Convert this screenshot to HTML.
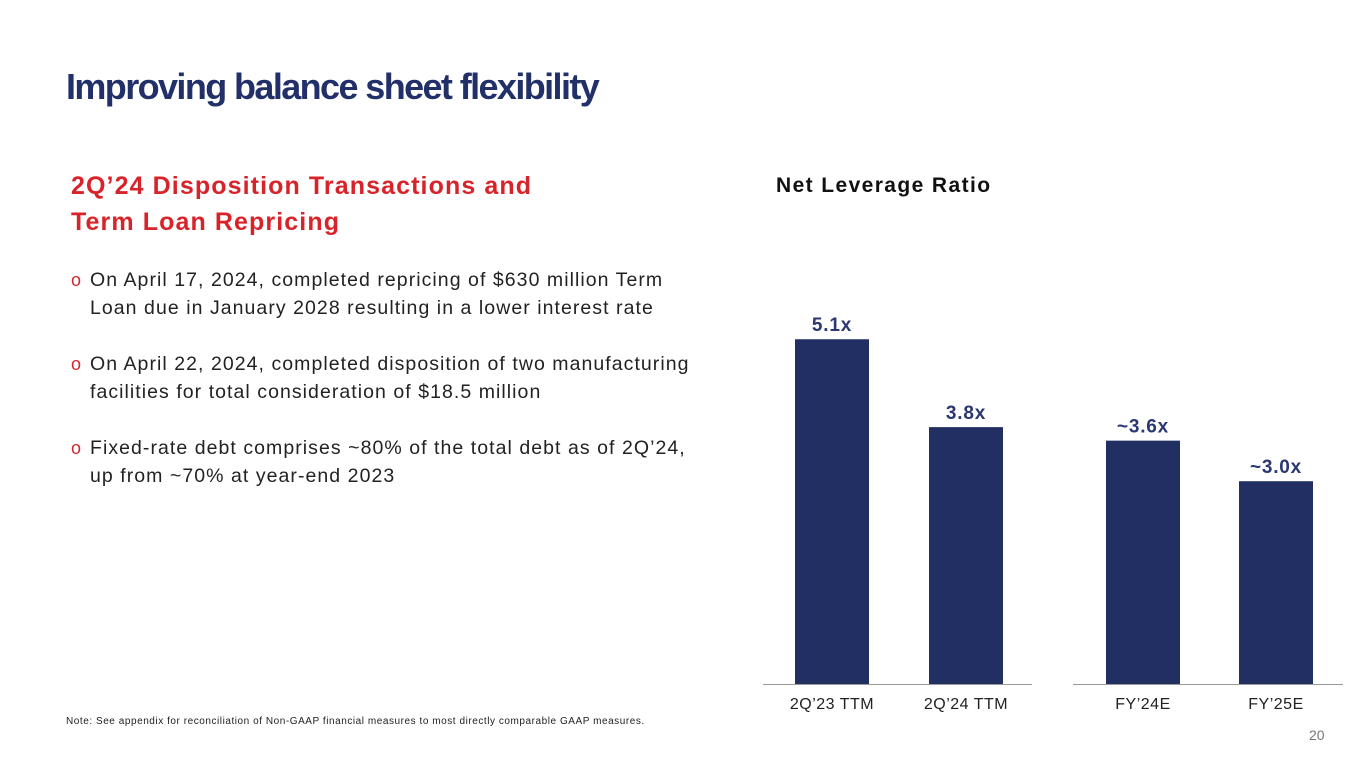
<!DOCTYPE html>
<html><head><meta charset="utf-8">
<style>
body{margin:0;width:1365px;height:768px;background:#fff;font-family:"Liberation Sans",sans-serif;position:relative;overflow:hidden}
.a{position:absolute;white-space:nowrap}
#title{left:66px;top:66px;font-size:36px;font-weight:bold;color:#22306a;letter-spacing:-1.6px}
.h2{left:71px;font-size:25px;font-weight:bold;color:#d8232a;letter-spacing:1.1px}
.b{left:90px;font-size:19.5px;color:#222;line-height:28px;letter-spacing:1.05px}
.o{position:absolute;left:-19px;top:0;color:#d8232a;font-size:18px}
#note{left:66px;top:716px;font-size:10px;color:#222;letter-spacing:0.55px}
#pg{left:1309px;top:727px;font-size:14px;color:#777}
#ctitle{left:776px;top:174px;font-size:21px;font-weight:bold;color:#111;letter-spacing:1.4px}
</style></head><body>
<div class="a" id="title">Improving balance sheet flexibility</div>
<div class="a h2" style="top:172px">2Q’24 Disposition Transactions and</div>
<div class="a h2" style="top:208px">Term Loan Repricing</div>
<div class="a b" style="top:266px"><span class="o">o</span>On April 17, 2024, completed repricing of $630 million Term<br>Loan due in January 2028 resulting in a lower interest rate</div>
<div class="a b" style="top:350px"><span class="o">o</span>On April 22, 2024, completed disposition of two manufacturing<br>facilities for total consideration of $18.5 million</div>
<div class="a b" style="top:434px"><span class="o">o</span>Fixed-rate debt comprises ~80% of the total debt as of 2Q’24,<br>up from ~70% at year-end 2023</div>
<div class="a" id="note">Note: See appendix for reconciliation of Non-GAAP financial measures to most directly comparable GAAP measures.</div>
<div class="a" id="pg">20</div>
<div class="a" id="ctitle">Net Leverage Ratio</div>
<svg class="a" style="left:0;top:0" width="1365" height="768">
<g id="g"></g>
</svg>
<script>
const categories=["2Q’23 TTM","2Q’24 TTM","FY’24E","FY’25E"];
const values=[5.1,3.8,3.6,3.0];
const valueLabels=["5.1x","3.8x","~3.6x","~3.0x"];
const barX=[795,929,1106,1239];
const baseY=684, pxPerUnit=67.6, bw=74;
const y=v=>baseY-v*pxPerUnit;
const g=document.getElementById('g');
const NS='http://www.w3.org/2000/svg';
function mk(t,a){const e=document.createElementNS(NS,t);for(const k in a)e.setAttribute(k,a[k]);g.appendChild(e);return e;}
const l1=mk('line',{x1:763,x2:1032,y1:baseY+0.5,y2:baseY+0.5,stroke:'#999','stroke-width':1});


const l2=mk('line',{x1:1073,x2:1343,y1:baseY+0.5,y2:baseY+0.5,stroke:'#999','stroke-width':1});


values.forEach((v,i)=>{
  const r=mk('rect',{x:barX[i],y:y(v),width:bw,height:baseY-y(v),fill:'#222f63'});
  
  
  const t=mk('text',{x:barX[i]+bw/2,y:y(v)-8,'text-anchor':'middle','font-size':19,'font-weight':'bold',fill:'#2a3770','font-family':'Liberation Sans','letter-spacing':0.8});
  t.textContent=valueLabels[i];
  
  
  const c=mk('text',{x:barX[i]+bw/2,y:709,'text-anchor':'middle','font-size':16,fill:'#222','font-family':'Liberation Sans','letter-spacing':0.5});
  c.textContent=categories[i];
  
  
});
</script>
</body></html>
